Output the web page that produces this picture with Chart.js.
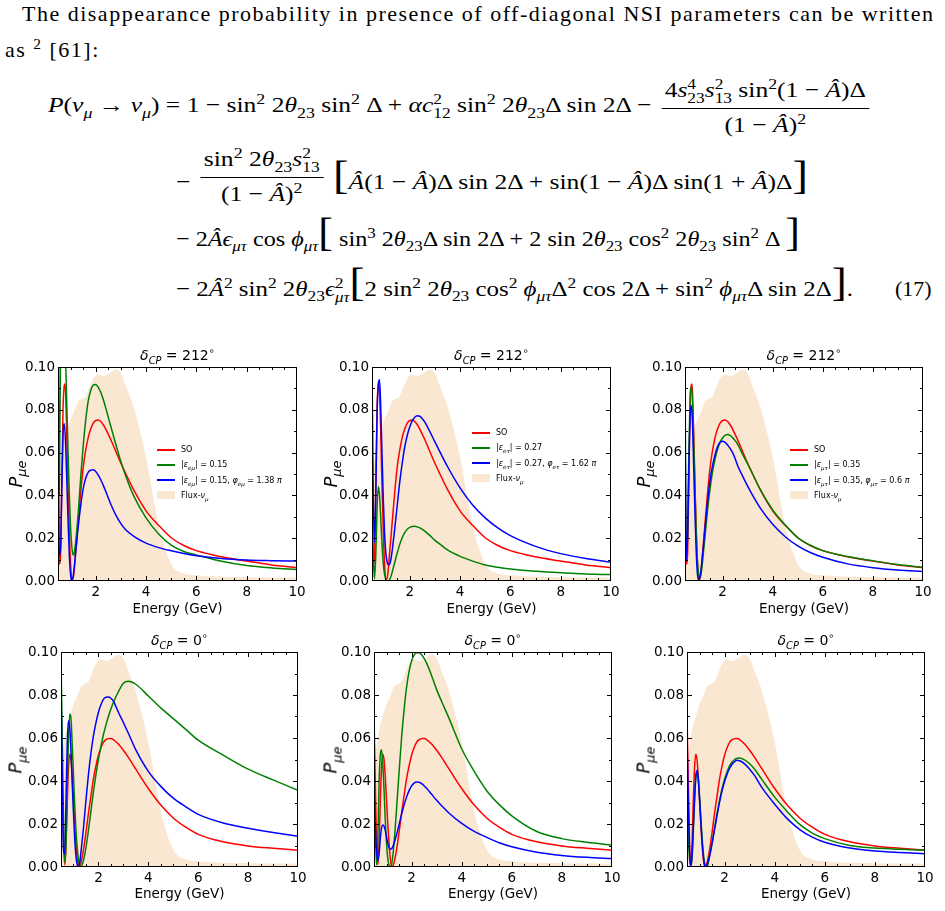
<!DOCTYPE html>
<html>
<head>
<meta charset="utf-8">
<title>P_mue with off-diagonal NSI</title>
<script src="https://cdn.jsdelivr.net/npm/chart.js@4.4.1/dist/chart.umd.min.js"></script>
<style>
  html, body { margin: 0; padding: 0; background: #fff; }
  #page { position: relative; width: 945px; height: 911px; overflow: hidden; }
  .serif { font-family: 'Liberation Serif', 'DejaVu Serif', serif; color: #000; }
  sub, sup { font-size: 0.7em; line-height: 0; }
  .ptxt { position: absolute; white-space: nowrap; font-size: 22px; line-height: 1; }
  .eq { position: absolute; white-space: nowrap; font-size: 22px; line-height: 1; transform-origin: 0 0; }
  .frac { display: inline-flex; flex-direction: column; align-items: center; vertical-align: middle; margin: 0 3px; }
  .frac .num { padding: 0 3px 3px; border-bottom: 1px solid #000; line-height: 1.1; }
  .frac .den { padding: 4px 3px 0; line-height: 1.1; }
  .frac.up { position: relative; top: -8px; }
  .ss { display: inline-block; font-size: 0.68em; line-height: 0.95; vertical-align: -0.4em; text-align: left; }
  .ss span { display: block; }
  .big { font-size: 40px; line-height: 1; }
  canvas { position: absolute; }
  .ptitle, .ylab, .leg { position: absolute; font-family: 'DejaVu Sans', sans-serif; color: #000; white-space: nowrap; }
  .ptitle { font-size: 14px; transform: translate(-50%, -50%); }
  .ylab { font-size: 18px; transform: translate(-50%, -50%) rotate(-90deg); }
  .ylab sub { font-size: 0.72em; }
  .leg { font-size: 8px; }
  .leg .row { position: absolute; left: 0; height: 12px; line-height: 12px; }
  .leg .sw { display: inline-block; width: 18px; height: 2px; vertical-align: middle; margin-right: 6px; }
  .leg .patch { display: inline-block; width: 18px; height: 8px; vertical-align: middle; margin-right: 6px; }
</style>
</head>
<body>
<div id="page">
  <div id="line1" class="ptxt serif" data-w="911" style="left:22px; top:3px;">The disappearance probability in presence of off-diagonal NSI parameters can be written</div>
  <div id="line2" class="ptxt serif" style="left:5px; top:39px;">as <sup>2</sup> [61]:</div>

  <div class="eq serif" data-w="825" style="left:48px; top:77px;">
    <i>P</i>(<i>ν</i><sub><i>μ</i></sub> → <i>ν</i><sub><i>μ</i></sub>) = 1 − sin<sup>2</sup> 2<i>θ</i><sub>23</sub> sin<sup>2</sup> Δ + <i>αc</i><span class="ss"><span>2</span><span>12</span></span> sin<sup>2</sup> 2<i>θ</i><sub>23</sub>Δ sin 2Δ −
    <span class="frac"><span class="num">4<i>s</i><span class="ss"><span>4</span><span>23</span></span><i>s</i><span class="ss"><span>2</span><span>13</span></span> sin<sup>2</sup>(1 − <i>Â</i>)Δ</span><span class="den">(1 − <i>Â</i>)<sup>2</sup></span></span>
  </div>

  <div class="eq serif" data-w="632" style="left:176px; top:154px;">
    − <span class="frac up"><span class="num">sin<sup>2</sup> 2<i>θ</i><sub>23</sub><i>s</i><span class="ss"><span>2</span><span>13</span></span></span><span class="den">(1 − <i>Â</i>)<sup>2</sup></span></span>
    <span class="big">[</span><i>Â</i>(1 − <i>Â</i>)Δ sin 2Δ + sin(1 − <i>Â</i>)Δ sin(1 + <i>Â</i>)Δ<span class="big">]</span>
  </div>

  <div class="eq serif" data-w="624" style="left:176px; top:213px;">
    − 2<i>Â</i><i>ϵ</i><sub><i>μτ</i></sub> cos <i>ϕ</i><sub><i>μτ</i></sub><span class="big">[</span> sin<sup>3</sup> 2<i>θ</i><sub>23</sub>Δ sin 2Δ + 2 sin 2<i>θ</i><sub>23</sub> cos<sup>2</sup> 2<i>θ</i><sub>23</sub> sin<sup>2</sup> Δ <span class="big">]</span>
  </div>

  <div class="eq serif" data-w="677" style="left:176px; top:263px;">
    − 2<i>Â</i><sup>2</sup> sin<sup>2</sup> 2<i>θ</i><sub>23</sub><i>ϵ</i><span class="ss"><span>2</span><span><i>μτ</i></span></span><span class="big">[</span>2 sin<sup>2</sup> 2<i>θ</i><sub>23</sub> cos<sup>2</sup> <i>ϕ</i><sub><i>μτ</i></sub>Δ<sup>2</sup> cos 2Δ + sin<sup>2</sup> <i>ϕ</i><sub><i>μτ</i></sub>Δ sin 2Δ<span class="big">]</span>.
  </div>

  <div class="eq serif" style="left:895px; top:278px;">(17)</div>
</div>

<script>
// energy grid (GeV) shared by every curve
const energy = [0.5, 0.55, 0.6, 0.65, 0.7, 0.75, 0.8, 0.85, 0.9, 0.95, 1.0, 1.05, 1.1, 1.15, 1.2, 1.25, 1.3,
  1.4, 1.5, 1.6, 1.7, 1.8, 1.9, 2.0, 2.1, 2.2, 2.3, 2.4, 2.5, 2.6,
  2.8, 3.0, 3.2,
  3.5, 4.0, 4.5, 5.0, 5.5, 6.0,
  7.0, 8.0, 9.0, 10.0];

// delta_CP = 212 deg (top row)
const soTop = [0.050, 0.008, 0.012, 0.045, 0.080, 0.092, 0.088, 0.068, 0.044, 0.023, 0.008, 0.001, 0.001, 0.006, 0.013, 0.020, 0.027,
  0.041, 0.053, 0.061, 0.067, 0.071, 0.0738, 0.075, 0.0752, 0.0745, 0.073, 0.071, 0.0685, 0.066,
  0.0605, 0.055, 0.050,
  0.0428, 0.0328, 0.026, 0.0202, 0.0166, 0.0142,
  0.0113, 0.0093, 0.0075, 0.0062];
const emuTop = [0.14, 0.04, 0.11, 0.14, 0.15, 0.14, 0.105, 0.082, 0.060, 0.040, 0.025, 0.016, 0.0121, 0.0135, 0.018, 0.024, 0.031,
  0.048, 0.063, 0.075, 0.084, 0.089, 0.0915, 0.0918, 0.0905, 0.0882, 0.0848, 0.0808, 0.0765, 0.0722,
  0.0638, 0.0558, 0.0488,
  0.040, 0.0295, 0.022, 0.0168, 0.0138, 0.0122,
  0.0092, 0.0072, 0.0061, 0.0054];
const emuPhaseTop = [0.11, 0.012, 0.015, 0.042, 0.068, 0.0735, 0.065, 0.047, 0.028, 0.012, 0.003, 0.0, 0.002, 0.007, 0.013, 0.019, 0.025,
  0.035, 0.043, 0.048, 0.0508, 0.0518, 0.052, 0.0512, 0.0495, 0.0473, 0.0447, 0.0418, 0.0388, 0.0359,
  0.0308, 0.0268, 0.0238,
  0.021, 0.0177, 0.0156, 0.0141, 0.0128, 0.0118,
  0.0105, 0.0098, 0.0095, 0.0093];
const etauTop = [0.025, 0.012, 0.001, 0.012, 0.034, 0.044, 0.040, 0.029, 0.017, 0.008, 0.003, 0.0008, 0.0, 0.0, 0.0008, 0.002, 0.004,
  0.0085, 0.013, 0.017, 0.0202, 0.0226, 0.0242, 0.0251, 0.0255, 0.0256, 0.0253, 0.0248, 0.0241, 0.0233,
  0.0213, 0.019, 0.0172,
  0.0145, 0.0115, 0.0093, 0.0075, 0.0064, 0.0056,
  0.0045, 0.0038, 0.0033, 0.003];
const etauPhaseTop = [0.10, 0.04, 0.018, 0.040, 0.076, 0.092, 0.094, 0.080, 0.058, 0.038, 0.022, 0.013, 0.009, 0.0076, 0.0078, 0.010, 0.014,
  0.024, 0.035, 0.046, 0.055, 0.0625, 0.068, 0.072, 0.0748, 0.0765, 0.0772, 0.077, 0.0758, 0.0742,
  0.0698, 0.065, 0.0603,
  0.0535, 0.0435, 0.0355, 0.0295, 0.0248, 0.0212,
  0.0162, 0.0128, 0.0105, 0.0088];
const mutauTop = [0.10, 0.015, 0.02, 0.055, 0.085, 0.0905, 0.083, 0.064, 0.042, 0.022, 0.009, 0.003, 0.0016, 0.004, 0.009, 0.015, 0.021,
  0.033, 0.043, 0.051, 0.057, 0.0615, 0.0648, 0.0668, 0.068, 0.0684, 0.068, 0.067, 0.0656, 0.064,
  0.0592, 0.0548, 0.050,
  0.0428, 0.0332, 0.0262, 0.0203, 0.0167, 0.0142,
  0.0114, 0.0094, 0.0077, 0.0064];
const mutauPhaseTop = [0.08, 0.01, 0.02, 0.05, 0.076, 0.082, 0.073, 0.052, 0.031, 0.013, 0.003, 0.0005, 0.002, 0.006, 0.012, 0.018, 0.025,
  0.037, 0.047, 0.054, 0.059, 0.0628, 0.0648, 0.0653, 0.0648, 0.0636, 0.062, 0.060, 0.0572, 0.054,
  0.049, 0.0443, 0.040,
  0.0342, 0.0265, 0.0207, 0.0164, 0.0133, 0.0111,
  0.0080, 0.0062, 0.0051, 0.0044];

// delta_CP = 0 deg (bottom row)
const soBottom = [0.071, 0.040, 0.012, 0.001, 0.010, 0.030, 0.046, 0.0525, 0.050, 0.042, 0.031, 0.020, 0.011, 0.004, 0.0007, 0.0003, 0.002,
  0.008, 0.016, 0.025, 0.033, 0.041, 0.047, 0.052, 0.0555, 0.058, 0.0592, 0.0597, 0.0598, 0.0593,
  0.0572, 0.0543, 0.051,
  0.0455, 0.0365, 0.0288, 0.0228, 0.0185, 0.0152,
  0.0117, 0.0098, 0.0087, 0.0078];
const emuBottom = [0.097, 0.060, 0.022, 0.002, 0.010, 0.036, 0.060, 0.0712, 0.069, 0.057, 0.043, 0.029, 0.017, 0.009, 0.0035, 0.0008, 0.0,
  0.003, 0.009, 0.017, 0.026, 0.035, 0.043, 0.050, 0.056, 0.0615, 0.066, 0.070, 0.0735, 0.0765,
  0.0815, 0.0855, 0.0864,
  0.085, 0.0795, 0.074, 0.069, 0.064, 0.059,
  0.052, 0.0455, 0.0405, 0.0357];
const emuPhaseBottom = [0.085, 0.040, 0.008, 0.006, 0.030, 0.057, 0.068, 0.065, 0.054, 0.039, 0.025, 0.013, 0.005, 0.001, 0.0, 0.002, 0.007,
  0.018, 0.031, 0.043, 0.053, 0.061, 0.067, 0.072, 0.0755, 0.078, 0.079, 0.0791, 0.0785, 0.0772,
  0.072, 0.0672, 0.0622,
  0.0545, 0.0445, 0.0375, 0.032, 0.028, 0.0245,
  0.0205, 0.018, 0.016, 0.0144];
const etauBottom = [0.050, 0.020, 0.001, 0.012, 0.038, 0.052, 0.0545, 0.048, 0.036, 0.022, 0.011, 0.004, 0.0008, 0.0, 0.001, 0.005, 0.011,
  0.027, 0.044, 0.060, 0.073, 0.0835, 0.091, 0.0958, 0.0985, 0.0996, 0.0996, 0.0987, 0.097, 0.0948,
  0.089, 0.0825, 0.077,
  0.069, 0.055, 0.0445, 0.0355, 0.029, 0.0238,
  0.0165, 0.0132, 0.0115, 0.0102];
const etauPhaseBottom = [0.037, 0.020, 0.008, 0.003, 0.006, 0.013, 0.018, 0.0195, 0.019, 0.017, 0.014, 0.011, 0.009, 0.0083, 0.0085, 0.0095, 0.011,
  0.015, 0.0197, 0.0245, 0.0288, 0.0325, 0.0355, 0.0377, 0.039, 0.0395, 0.0394, 0.0388, 0.0378, 0.0366,
  0.0338, 0.031, 0.0285,
  0.025, 0.0203, 0.0166, 0.0138, 0.0113, 0.0094,
  0.0069, 0.0054, 0.0045, 0.0039];
const mutauBottom = [0.031, 0.015, 0.004, 0.0003, 0.004, 0.016, 0.030, 0.041, 0.0442, 0.041, 0.033, 0.023, 0.014, 0.007, 0.002, 0.0003, 0.0,
  0.005, 0.011, 0.018, 0.025, 0.031, 0.0365, 0.0408, 0.0443, 0.047, 0.0488, 0.050, 0.0506, 0.0507,
  0.0498, 0.048, 0.0455,
  0.0405, 0.0325, 0.0258, 0.0198, 0.0158, 0.0132,
  0.0100, 0.0088, 0.0082, 0.0078];
const mutauPhaseBottom = [0.061, 0.030, 0.008, 0.0003, 0.005, 0.018, 0.032, 0.042, 0.045, 0.041, 0.032, 0.022, 0.012, 0.005, 0.001, 0.0, 0.001,
  0.005, 0.011, 0.0175, 0.024, 0.0302, 0.0355, 0.0398, 0.0432, 0.0458, 0.0478, 0.049, 0.0496, 0.0494,
  0.048, 0.0455, 0.0425,
  0.0368, 0.0292, 0.0225, 0.0174, 0.0139, 0.0115,
  0.0088, 0.0074, 0.0067, 0.0062];

// scaled nu_mu flux (same shape in every panel)
const flux = [0.045, 0.052, 0.056, 0.060, 0.063, 0.066, 0.068, 0.070, 0.072, 0.074, 0.0755, 0.077, 0.078, 0.0795, 0.081, 0.0825, 0.084,
  0.0848, 0.0855, 0.0862, 0.089, 0.092, 0.0945, 0.096, 0.0965, 0.0962, 0.0958, 0.096, 0.0968, 0.0975,
  0.0988, 0.097, 0.091,
  0.0815, 0.058, 0.026, 0.008, 0.0035, 0.0027,
  0.002, 0.0018, 0.0016, 0.0015];

const energyTicks = [2, 4, 6, 8, 10];
const probTicks = [0, 0.02, 0.04, 0.06, 0.08, 0.10];

const colors = { so: 'red', nsi: 'green', phase: 'blue', flux: '#f9e7d2' };
const tickFont = { family: "'DejaVu Sans', sans-serif", size: 13.5 };

const legendTop = [
  ['SO', '|<i>ε</i><sub><i>eμ</i></sub>| = 0.15', '|<i>ε</i><sub><i>eμ</i></sub>| = 0.15, <i>φ</i><sub><i>eμ</i></sub> = 1.38 <i>π</i>'],
  ['SO', '|<i>ε</i><sub><i>eτ</i></sub>| = 0.27', '|<i>ε</i><sub><i>eτ</i></sub>| = 0.27, <i>φ</i><sub><i>eτ</i></sub> = 1.62 <i>π</i>'],
  ['SO', '|<i>ε</i><sub><i>μτ</i></sub>| = 0.35', '|<i>ε</i><sub><i>μτ</i></sub>| = 0.35, <i>φ</i><sub><i>μτ</i></sub> = 0.6 <i>π</i>']
];
const fluxLabel = 'Flux-<i>ν</i><sub><i>μ</i></sub>';

// layout of the six panels (canvas box, plot area, legend anchor)
const panels = [
  { id: 'p1', cx: 0,   cy: 340, area: [58, 297, 367, 581],  delta: '212', lines: [soTop, emuTop, emuPhaseTop], legend: { x: 157, y: 450, labels: legendTop[0] } },
  { id: 'p2', cx: 315, cy: 340, area: [372, 611, 367, 581], delta: '212', lines: [soTop, etauTop, etauPhaseTop], legend: { x: 472, y: 433, labels: legendTop[1] } },
  { id: 'p3', cx: 630, cy: 340, area: [685, 923, 367, 581], delta: '212', lines: [soTop, mutauTop, mutauPhaseTop], legend: { x: 790, y: 450, labels: legendTop[2] } },
  { id: 'p4', cx: 0,   cy: 626, area: [61, 298, 652, 867],  delta: '0', lines: [soBottom, emuBottom, emuPhaseBottom] },
  { id: 'p5', cx: 315, cy: 626, area: [374, 612, 652, 867], delta: '0', lines: [soBottom, etauBottom, etauPhaseBottom] },
  { id: 'p6', cx: 630, cy: 626, area: [687, 925, 652, 867], delta: '0', lines: [soBottom, mutauBottom, mutauPhaseBottom] }
];
const canvasW = 315, canvasH = 280;

function pts(values) {
  return energy.map((e, i) => ({ x: e, y: values[i] }));
}

// matplotlib-like frame with inward major/minor ticks on all sides
const frameTicks = {
  id: 'frameTicks',
  afterDatasetsDraw(chart) {
    const { ctx, chartArea: a, scales: { x, y } } = chart;
    ctx.save();
    ctx.strokeStyle = '#000';
    ctx.lineWidth = 1;
    ctx.beginPath();
    for (let k = 2; k < 20; k++) {
      const px = Math.round(x.getPixelForValue(k / 2)) + 0.5;
      const len = k % 4 === 0 ? 5 : 3;
      ctx.moveTo(px, a.bottom); ctx.lineTo(px, a.bottom - len);
      ctx.moveTo(px, a.top); ctx.lineTo(px, a.top + len);
    }
    for (let k = 1; k < 10; k++) {
      const py = Math.round(y.getPixelForValue(k / 100)) + 0.5;
      const len = k % 2 === 0 ? 5 : 3;
      ctx.moveTo(a.left, py); ctx.lineTo(a.left + len, py);
      ctx.moveTo(a.right, py); ctx.lineTo(a.right - len, py);
    }
    ctx.stroke();
    ctx.strokeRect(Math.round(a.left) + 0.5, Math.round(a.top) + 0.5,
      Math.round(a.right - a.left) - 1, Math.round(a.bottom - a.top) - 1);
    ctx.restore();
  }
};

const page = document.getElementById('page');

function addDiv(cls, html, style) {
  const d = document.createElement('div');
  d.className = cls;
  d.innerHTML = html;
  Object.assign(d.style, style);
  page.appendChild(d);
  return d;
}

panels.forEach(function(p) {
  const [l, r, t, b] = p.area;
  const canvas = document.createElement('canvas');
  canvas.id = p.id;
  canvas.width = canvasW;
  canvas.height = canvasH;
  canvas.style.left = p.cx + 'px';
  canvas.style.top = p.cy + 'px';
  page.appendChild(canvas);

  const padTop = t - p.cy;
  const xh = p.cy < 500 ? 37 : 36;
  const padBottom = p.cy + canvasH - b - xh;
  const yw = l - p.cx;
  const padRight = p.cx + canvasW - r;

  const line = (values, color, order) => ({
    data: pts(values), borderColor: color, borderWidth: 1.5, pointRadius: 0,
    fill: false, cubicInterpolationMode: 'monotone', order: order
  });

  new Chart(canvas.getContext('2d'), {
    type: 'line',
    data: {
      datasets: [
        line(p.lines[0], colors.so, 3),
        line(p.lines[1], colors.nsi, 2),
        line(p.lines[2], colors.phase, 1),
        { data: pts(flux), borderWidth: 0, borderColor: colors.flux, backgroundColor: colors.flux,
          fill: 'origin', pointRadius: 0, cubicInterpolationMode: 'monotone', order: 10 }
      ]
    },
    options: {
      responsive: false,
      animation: false,
      devicePixelRatio: 1,
      layout: { padding: { left: 0, right: padRight, top: padTop, bottom: padBottom } },
      plugins: { legend: { display: false }, tooltip: { enabled: false } },
      scales: {
        x: {
          type: 'linear', min: 0.5, max: 10,
          grid: { display: false, drawTicks: false },
          border: { display: false },
          afterBuildTicks: function(s) { s.ticks = energyTicks.map(v => ({ value: v })); },
          afterFit: function(s) { s.height = xh; },
          ticks: { padding: 3, color: '#000', font: tickFont, maxRotation: 0, autoSkip: false },
          title: { display: true, text: 'Energy (GeV)', color: '#000', font: tickFont, padding: 0 }
        },
        y: {
          type: 'linear', min: 0, max: 0.1,
          grid: { display: false, drawTicks: false },
          border: { display: false },
          afterBuildTicks: function(s) { s.ticks = probTicks.map(v => ({ value: v })); },
          afterFit: function(s) { s.width = yw; },
          ticks: { padding: 3, color: '#000', font: tickFont, callback: v => v.toFixed(2) }
        }
      }
    },
    plugins: [frameTicks]
  });

  // title, y label, legend
  addDiv('ptitle', '<i>δ</i><sub><i>CP</i></sub> = ' + p.delta + '<sup>∘</sup>',
    { left: ((l + r) / 2) + 'px', top: (p.cy < 500 ? 355 : 640) + 'px' });
  addDiv('ylab', '<i>P</i><sub><i>μe</i></sub>',
    { left: (p.cx + (p.cx === 630 ? 13 : 15)) + 'px', top: ((t + b) / 2) + 'px' });

  if (p.legend) {
    const box = addDiv('leg', '', { left: p.legend.x + 'px', top: (p.legend.y - 6) + 'px' });
    const swatchColors = [colors.so, colors.nsi, colors.phase];
    p.legend.labels.forEach(function(txt, i) {
      const row = document.createElement('div');
      row.className = 'row';
      row.style.top = (i * 15.3) + 'px';
      row.innerHTML = '<span class="sw" style="background:' + swatchColors[i] + '"></span>' + txt;
      box.appendChild(row);
    });
    const fr = document.createElement('div');
    fr.className = 'row';
    fr.style.top = (3 * 15.3) + 'px';
    fr.innerHTML = '<span class="patch" style="background:' + colors.flux + '"></span>' + fluxLabel;
    box.appendChild(fr);
  }
});

// widen the paragraph text by letter spacing so it spans the page like the original
const line1 = document.getElementById('line1');
const natural = line1.getBoundingClientRect().width;
const spacing = (parseFloat(line1.dataset.w) - natural) / (line1.textContent.length - 1);
line1.style.letterSpacing = spacing + 'px';
document.getElementById('line2').style.letterSpacing = spacing + 'px';

// stretch each equation row to the width it has on the page
document.querySelectorAll('.eq[data-w]').forEach(function(el) {
  const w = el.getBoundingClientRect().width;
  el.style.transform = 'scaleX(' + (parseFloat(el.dataset.w) / w) + ')';
});
</script>
</body>
</html>
